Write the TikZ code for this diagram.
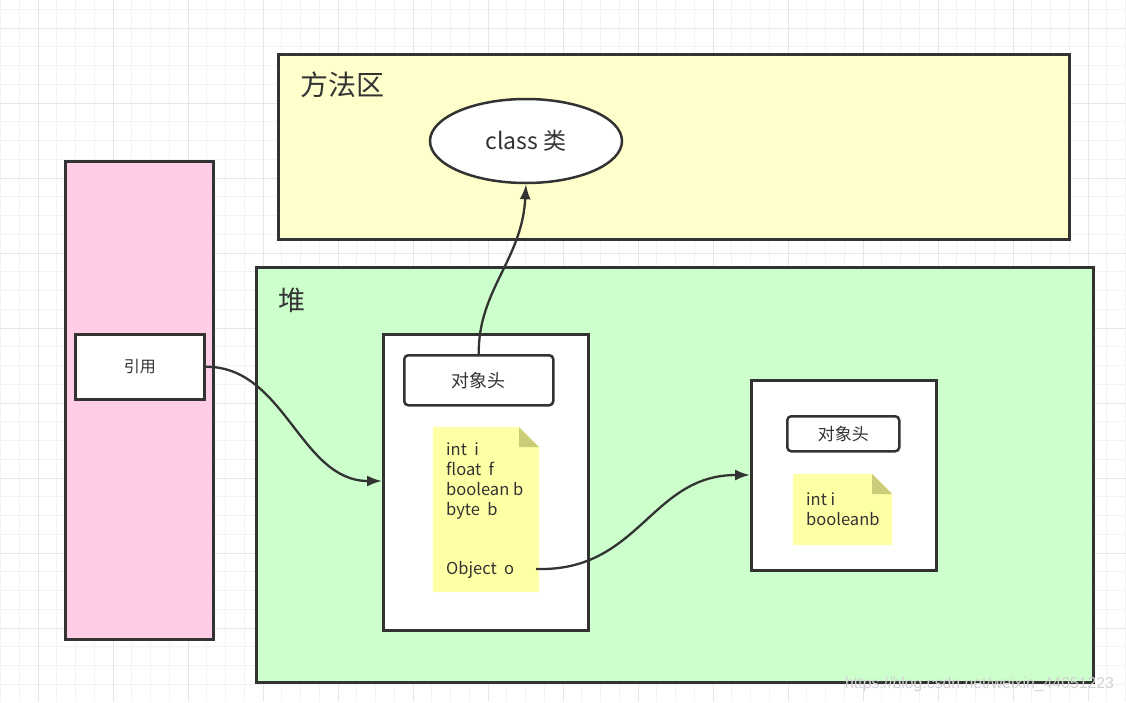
\documentclass[tikz,border=0pt]{standalone}
\usepackage{fontspec}
\setmainfont{Noto Sans CJK SC}
\newfontfamily\wmfont{Liberation Sans}
\usetikzlibrary{arrows.meta,shapes.geometric}
\definecolor{stroke}{HTML}{333333}
\definecolor{methodfill}{HTML}{FFFFCC}
\definecolor{heapfill}{HTML}{CCFFCC}
\definecolor{stackfill}{HTML}{FFCCE6}
\definecolor{notefill}{HTML}{FFFFA6}
\definecolor{notefold}{HTML}{CCCC78}
\definecolor{gridminor}{HTML}{F3F3F3}
\definecolor{gridmajor}{HTML}{E6E6E6}
\definecolor{txt}{HTML}{333333}
\tikzset{
  region/.style={draw=stroke,line width=2.5pt,rectangle,inner sep=0pt,anchor=north west},
  objbox/.style={draw=stroke,fill=white,line width=2.5pt,rectangle,inner sep=0pt,anchor=north west},
  headbox/.style={draw=stroke,fill=white,line width=2.5pt,rounded corners=4pt,inner sep=0pt,anchor=north west,text=txt},
  link/.style={draw=stroke,line width=2.3pt,-{Latex[length=15pt,width=11pt]}},
  notetext/.style={anchor=north west,align=left,text=txt,font=\fontsize{16.5}{20}\selectfont,inner sep=0pt},
}
\begin{document}
\begin{tikzpicture}[x=1pt,y=-1pt]
\useasboundingbox (0,0) rectangle (1126,702);
\fill[white] (0,0) rectangle (1126,702);
% grid
\foreach \i in {0,...,60} {
  \pgfmathsetmacro{\gx}{0.5+18.75*\i}
  \draw[gridminor,line width=1pt] (\gx,0) -- (\gx,702);
}
\foreach \i in {0,...,38} {
  \pgfmathsetmacro{\gy}{9.25+18.75*\i}
  \draw[gridminor,line width=1pt] (0,\gy) -- (1126,\gy);
}
\foreach \i in {0,...,15} {
  \pgfmathsetmacro{\gx}{38+75*\i}
  \draw[gridmajor,line width=1pt] (\gx,0) -- (\gx,702);
}
\foreach \i in {0,...,9} {
  \pgfmathsetmacro{\gy}{28+75*\i}
  \draw[gridmajor,line width=1pt] (0,\gy) -- (1126,\gy);
}

% method area
\node[region,fill=methodfill,minimum width=791pt,minimum height=185pt] (method) at (277,53) {};
\node[anchor=west,text=txt,font=\fontsize{28}{30}\selectfont,inner sep=0pt] (methodlbl) at (300,85) {方法区};
\node[ellipse,draw=stroke,fill=white,line width=2.5pt,minimum width=192pt,minimum height=84pt,inner sep=0pt,text=txt,font=\fontsize{23}{26}\selectfont] (cls) at (526,141) {class 类};

% stack
\node[region,fill=stackfill,minimum width=148pt,minimum height=478pt] (stack) at (64,160) {};
\node[objbox,minimum width=129pt,minimum height=65pt,text=txt,font=\fontsize{16}{18}\selectfont] (ref) at (74,333) {引用};

% heap
\node[region,fill=heapfill,minimum width=837pt,minimum height=415pt] (heap) at (255,266) {};
\node[anchor=west,text=txt,font=\fontsize{27}{30}\selectfont,inner sep=0pt] (heaplbl) at (278,300) {堆};

% object 1
\node[objbox,minimum width=205pt,minimum height=296pt] (obj1) at (382,333) {};
\node[headbox,minimum width=149pt,minimum height=50pt,font=\fontsize{18}{20}\selectfont] (head1) at (403,354) {对象头};
\fill[notefill] (433,427) -- (519,427) -- (539,447) -- (539,592) -- (433,592) -- cycle;
\fill[notefold] (519,427) -- (539,447) -- (519,447) -- cycle;
\node[notetext] (note1) at (446,443) {int\ \ i\\float\ \ f\\boolean b\\byte\ \ b};
\node[notetext,anchor=west] (objo) at (446,570) {Object\ \ o};

% object 2
\node[objbox,minimum width=185pt,minimum height=190pt] (obj2) at (750,379) {};
\node[headbox,minimum width=112pt,minimum height=35pt,font=\fontsize{17}{19}\selectfont] (head2) at (786,415) {对象头};
\fill[notefill] (793,474) -- (872,474) -- (892,494) -- (892,545) -- (793,545) -- cycle;
\fill[notefold] (872,474) -- (892,494) -- (872,494) -- cycle;
\node[notetext] (note2) at (806,493) {int i\\booleanb};

% connectors
\coordinate (objoend) at (536,569);
\coordinate (obj1in) at (382,481);
\coordinate (obj2in) at (750,475);
\draw[link] (ref.east) .. controls (285,366) and (300,481) .. (obj1in);
\draw[link] (head1.north) .. controls (478,290) and (522,260) .. (cls.south);
\draw[link] (objoend) .. controls (640,572) and (650,475) .. (obj2in);

% watermark
\node[anchor=west,text=gray!35,font=\wmfont\fontsize{15.8}{18}\selectfont,inner sep=0pt] (wm) at (845,684) {https://blog.csdn.net/weixin\_44051223};
\end{tikzpicture}
\end{document}
